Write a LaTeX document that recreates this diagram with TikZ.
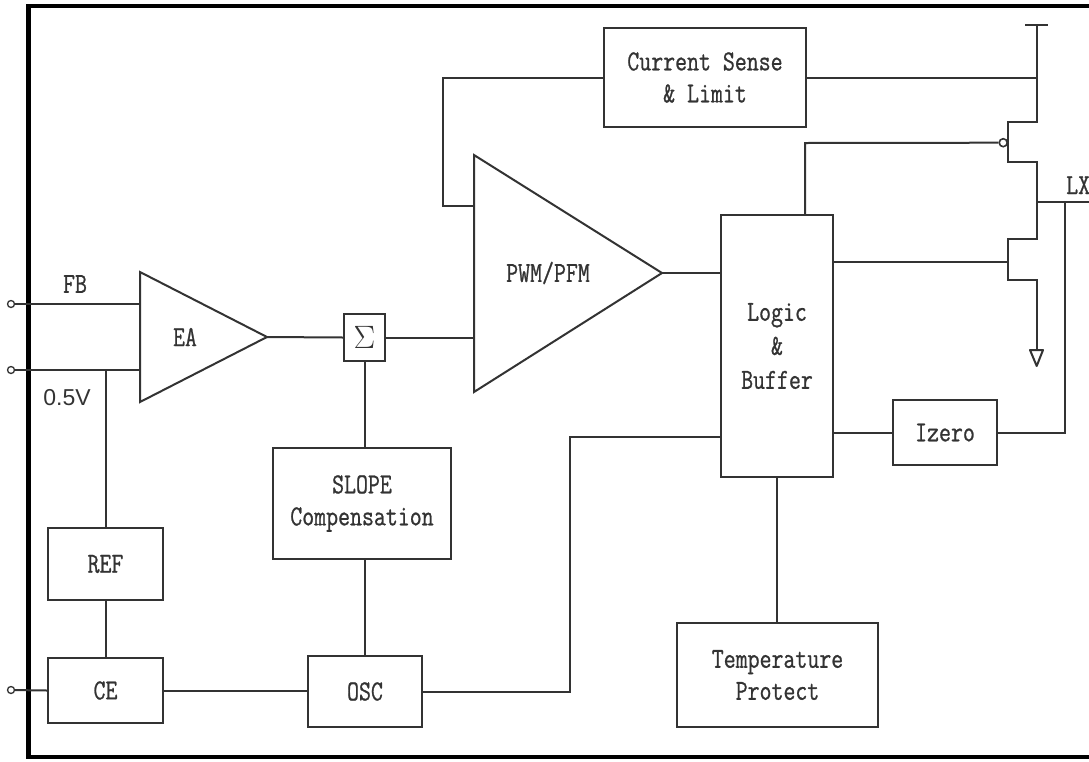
\documentclass[tikz,border=0pt]{standalone}
\usepackage{fontspec}
\newfontfamily\boxfont{Latin Modern Mono}[FakeStretch=0.8,FakeBold=0.8]
\newfontfamily\sansf{Liberation Sans}
\begin{document}
\begin{tikzpicture}[x=1pt,y=-1pt,
  wire/.style={line width=2pt,draw=black!80,line join=miter},
  blk/.style={wire,rectangle,fill=white,inner sep=0pt,text=black!80,align=center,
    font=\boxfont\fontsize{29}{32}\selectfont},
  lbl/.style={inner sep=0pt,text=black!80,align=center,font=\boxfont\fontsize{29}{34}\selectfont},
  pin/.style={circle,draw=black!80,line width=1.3pt,fill=white,minimum size=7pt,inner sep=0pt}]
\useasboundingbox (0,0) rectangle (1089,761);
% outer frame
\draw[line width=4.5pt,black] (1089,6) -- (28.5,6) -- (28.5,757) -- (1089,757);

% blocks
\node[blk,minimum width=202,minimum height=99] (cs) at (705,77.5) {Current Sense\\\& Limit};
\node[blk,minimum width=112,minimum height=262] (logic) at (777,346) {};
\node[lbl] (logictxt) at (777,346) {Logic\\\&\\Buffer};
\node[blk,minimum width=104,minimum height=65] (izero) at (945,432.5) {Izero};
\node[blk,minimum width=201,minimum height=104] (temp) at (777.5,675) {Temperature\\Protect};
\node[blk,minimum width=178,minimum height=111] (slope) at (362,503.5) {SLOPE\\Compensation};
\node[blk,minimum width=114,minimum height=71] (osc) at (365,691.5) {OSC};
\node[blk,minimum width=115,minimum height=65] (ce) at (105.5,690.5) {CE};
\node[blk,minimum width=115,minimum height=72] (ref) at (105.5,564) {REF};
\node[blk,minimum width=41,minimum height=47] (sigma) at (364.5,337.5) {\scalebox{1.3}{$\Sigma$}};

% triangles
\coordinate (eaT) at (140,272); \coordinate (eaB) at (140,402); \coordinate (eaTip) at (267,337);
\draw[wire] (eaT) -- (eaTip) -- (eaB) -- cycle;
\node[lbl] (ea) at (185,337) {EA};
\coordinate (pwT) at (474,155); \coordinate (pwB) at (474,392); \coordinate (pwTip) at (662,273);
\draw[wire] (pwT) -- (pwTip) -- (pwB) -- cycle;
\node[lbl] (pwm) at (548,273) {PWM/PFM};

% pins
\node[pin] (pfb) at (11,304) {};
\node[pin] (pref) at (11,370) {};
\node[pin] (pce) at (11,690) {};
\coordinate (ea1) at (140,304);
\coordinate (ea2) at (140,370);
\draw[wire] (pfb) -- (ea1);
\draw[wire] (pref) -- (ea2);
\draw[wire] (pce) -- (ce.west);
\node[lbl] (fb) at (75,284) {FB};
\node[inner sep=0pt,text=black!80,font=\sansf\fontsize{23}{23}\selectfont] (v05) at (67,398) {0.5V};

% left side connections
\draw[wire] (ref.north) -- (ref.north |- ea2);
\draw[wire] (ref.south) -- (ce.north);
\draw[wire] (ce.east) -- (ce.east -| osc.west);
\draw[wire] (eaTip) -- (sigma.west);
\coordinate (pwIn) at (474,337.5);
\draw[wire] (sigma.east) -- (pwIn);
\draw[wire] (sigma.south) -- (sigma.south |- slope.north);
\draw[wire] (osc.north |- slope.south) -- (osc.north);
\coordinate (oscBend) at (570,437);
\draw[wire] (osc.east) -| (oscBend) -- (oscBend -| logic.west);
\draw[wire] (pwTip) -- (pwTip -| logic.west);
\coordinate (csBend) at (443,206);
\draw[wire] (cs.west) -| (csBend) -- (csBend -| pwT);

% power stage
\coordinate (vddTop) at (1036.7,25);
\coordinate (pS) at (1036.7,122);
\coordinate (pD) at (1036.7,162);
\coordinate (lx) at (1036.7,202);
\coordinate (nD) at (1036.7,239);
\coordinate (nS) at (1036.7,280);
\coordinate (gnd) at (1036.7,350);
\draw[wire] (1025,25) -- (1048,25);
\draw[wire] (vddTop) -- (pS) -- (1007.7,122) -- (1007.7,162) -- (pD) -- (nD) -- (1007.7,239) -- (1007.7,280) -- (nS) -- (gnd);
\draw[wire,line join=round] (1030,350) -- (1043,350) -- (1036.7,366) -- cycle;
\draw[wire] (cs.east) -- (cs.east -| vddTop);
\node[circle,draw=black!80,line width=1.6pt,minimum size=8pt,inner sep=0pt] (pgate) at (1003.2,142.7) {};
\coordinate (lgTop) at (805,143);
\draw[wire] (lgTop |- logic.north) -- (lgTop) -- (pgate.west);
\coordinate (ngate) at (1007.7,262);
\draw[wire] (ngate -| logic.east) -- (ngate);
\coordinate (lxR) at (1089,202);
\draw[wire] (lx) -- (lxR);
\node[lbl,anchor=base west] (lxl) at (1066,194) {LX};
\coordinate (izTop) at (1065,202);
\draw[wire] (izero.west -| logic.east) -- (izero.west);
\draw[wire] (izero.east) -| (izTop);
\draw[wire] (logic.south) -- (logic.south |- temp.north);
\end{tikzpicture}
\end{document}
